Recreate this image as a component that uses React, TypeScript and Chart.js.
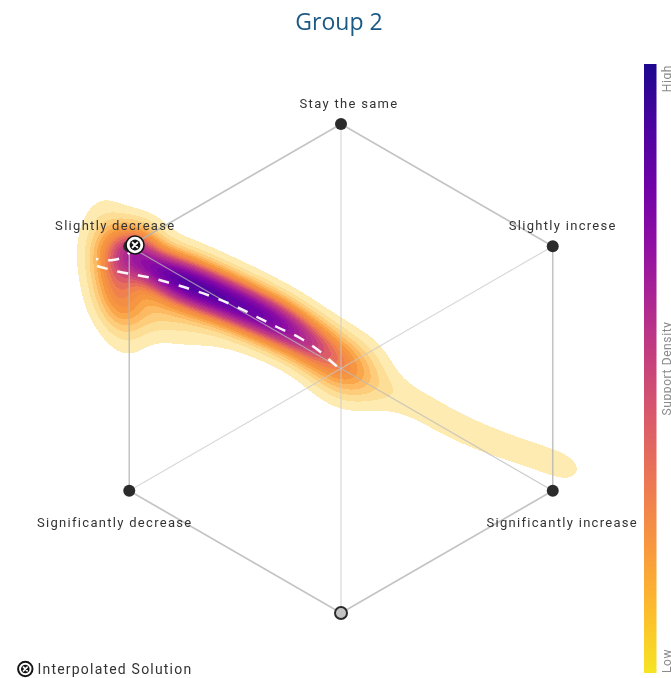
import React, { useEffect, useRef } from "react";
import { Chart, registerables } from "chart.js";
Chart.register(...registerables);

const PAGE_W = 671;
const PAGE_H = 678;

// ---------- text ----------
const chartTitle = "Group 2";
const vertexLabels = [
  "Stay the same",
  "Slightly increse",
  "Significantly increase",
  "",
  "Significantly decrease",
  "Slightly decrease",
];
const legendLabel = "Interpolated Solution";
const colorbarTitle = "Support Density";
const colorbarLow = "Low";
const colorbarHigh = "High";

// ---------- hexagon (page pixel space) ----------
const HEX_CX = 341;
const HEX_CY = 368.5;
const HEX_R = 244.5;
const vertexAngles = [-90, -30, 30, 90, 150, 210];
// label offsets from each vertex: [dx, baseline dy]
const labelOffsets = [
  [8, -16],
  [10, -16],
  [9.5, 36],
  [0, 0],
  [-14.5, 36],
  [-14, -16],
];

// ---------- interpolated solution + path ----------
const solutionPoint = [{ x: 135, y: 245 }];
const solutionPathA = [
  [134, 245], [127, 255], [113, 260], [96, 259],
];
const solutionPathB = [
  [97, 266], [120, 272], [147, 277], [170, 283], [193, 290], [213, 297],
  [237, 307], [257, 317], [277, 327], [300, 338], [318, 350], [333, 363], [343, 372],
];

// ---------- support density components: [cx, cy, sigmaAlong, sigmaAcross, angleDeg, weight] ----------
const ridgeKernels = [
  [153, 267, 22, 14, 24, 0.85],
  [183, 281, 22, 15, 24, 1.0],
  [212, 293, 22, 15, 25, 1.0],
  [242, 306, 22, 15, 26, 1.0],
  [271, 320, 22, 15, 28, 0.9],
  [298, 335, 22, 15, 33, 0.7],
  [322, 351, 20, 16, 38, 0.42],
  [345, 368, 20, 18, 40, 0.24],
];
const spreadKernels = [
  [135, 245, 16, 16, 0, 0.55],
  [116, 277, 36, 16, 80, 0.6],
  [165, 290, 45, 28, 30, 0.22],
  [145, 312, 28, 15, 10, 0.1],
  [250, 312, 70, 24, 27, 0.1],
  [352, 372, 24, 21, 30, 0.2],
];
const tailKernels = [
  [378, 387, 18, 14, 22, 0.075],
  [405, 399, 18, 14, 22, 0.07],
  [432, 413, 18, 15, 26, 0.07],
  [460, 428, 18, 15, 24, 0.07],
  [488, 440, 18, 14, 22, 0.07],
  [516, 450, 18, 13, 20, 0.07],
  [543, 459, 18, 13, 22, 0.07],
  [567, 468, 16, 12, 24, 0.07],
];
const DENSITY_LEVELS = 22;
const DENSITY_FLOOR = 0.035;
// density -> plasma position breakpoints (colour scale)
const colourStopsDensity = [0, 0.066, 0.17, 0.34, 0.53, 0.78, 1];
const colourStopsPlasma = [0.92, 0.88, 0.81, 0.72, 0.47, 0.28, 0.14];

// plasma colormap stops
const PLASMA = [
  [13, 8, 135], [65, 4, 157], [106, 0, 168], [143, 13, 164], [177, 42, 144],
  [204, 71, 120], [225, 100, 98], [242, 132, 75], [252, 166, 54], [252, 206, 37], [240, 249, 33],
];
function plasma(p: number) {
  const t = Math.max(0, Math.min(1, p)) * 10;
  const i = Math.min(9, Math.floor(t));
  const f = t - i;
  const a = PLASMA[i], b = PLASMA[i + 1];
  return a.map((v, j) => v + (b[j] - v) * f);
}
function densityToPlasma(d: number) {
  for (let i = 1; i < colourStopsDensity.length; i++) {
    if (d <= colourStopsDensity[i]) {
      const a = colourStopsDensity[i - 1], b = colourStopsDensity[i];
      const f = (d - a) / (b - a);
      return colourStopsPlasma[i - 1] + (colourStopsPlasma[i] - colourStopsPlasma[i - 1]) * f;
    }
  }
  return colourStopsPlasma[colourStopsPlasma.length - 1];
}

function buildDensity() {
  const kernels = [...ridgeKernels, ...spreadKernels, ...tailKernels].map((k) => {
    const a = (k[4] * Math.PI) / 180;
    return { cx: k[0], cy: k[1], sa: k[2], sb: k[3], c: Math.cos(a), s: Math.sin(a), w: k[5] };
  });
  const f = (x: number, y: number) => {
    let sum = 0;
    for (const k of kernels) {
      const dx = x - k.cx, dy = y - k.cy;
      const u = dx * k.c + dy * k.s;
      const v = -dx * k.s + dy * k.c;
      const e = (u * u) / (k.sa * k.sa) + (v * v) / (k.sb * k.sb);
      if (e < 30) sum += k.w * Math.exp(-0.5 * e);
    }
    return sum;
  };
  const xs: number[] = [], ys: number[] = [], ds: number[] = [];
  let max = 0;
  for (let y = 180.5; y <= 505; y += 1) {
    for (let x = 60.5; x <= 610; x += 1) {
      const d = f(x, y);
      if (d > max) max = d;
      xs.push(x); ys.push(y); ds.push(d);
    }
  }
  const step = (1 - DENSITY_FLOOR) / DENSITY_LEVELS;
  const palette: string[] = [];
  for (let k = 0; k < DENSITY_LEVELS; k++) {
    const dk = DENSITY_FLOOR + k * step;
    const dm = dk + step / 2;
    const rgb = plasma(densityToPlasma(dm));
    const m = Math.min(1, 0.36 + (dk - DENSITY_FLOOR) * 3.2);
    const col = rgb.map((v) => Math.round(255 + (v - 255) * m));
    palette.push(`rgb(${col[0]},${col[1]},${col[2]})`);
  }
  const pts: { x: number; y: number }[] = [];
  const cols: string[] = [];
  for (let i = 0; i < ds.length; i++) {
    const d = ds[i] / max;
    if (d < DENSITY_FLOOR) continue;
    const k = Math.min(DENSITY_LEVELS - 1, Math.floor((d - DENSITY_FLOOR) / step));
    pts.push({ x: xs[i], y: ys[i] });
    cols.push(palette[k]);
  }
  return { pts, cols };
}

function drawSolutionIcon(g: CanvasRenderingContext2D, x: number, y: number, r: number, ring: number) {
  g.save();
  g.beginPath();
  g.arc(x, y, r, 0, Math.PI * 2);
  g.fillStyle = "#ffffff";
  g.fill();
  g.lineWidth = ring;
  g.strokeStyle = "#151515";
  g.stroke();
  g.beginPath();
  g.arc(x, y, r * 0.6, 0, Math.PI * 2);
  g.fillStyle = "#151515";
  g.fill();
  const a = r * 0.26;
  g.strokeStyle = "#ffffff";
  g.lineWidth = r * 0.22;
  g.lineCap = "round";
  g.beginPath();
  g.moveTo(x - a, y - a);
  g.lineTo(x + a, y + a);
  g.moveTo(x + a, y - a);
  g.lineTo(x - a, y + a);
  g.stroke();
  g.restore();
}

function makeIcon() {
  const c = document.createElement("canvas");
  c.width = 22;
  c.height = 22;
  const g = c.getContext("2d")!;
  drawSolutionIcon(g, 11, 11, 9, 1.6);
  return c;
}

const overlayPlugin = {
  id: "overlay",
  afterDatasetsDraw(chart: any) {
    const ctx: CanvasRenderingContext2D = chart.ctx;
    const xs = chart.scales.x, ys = chart.scales.y;
    ctx.save();
    ctx.font = "13px Roboto";
    ctx.fillStyle = "#333333";
    ctx.textAlign = "center";
    ctx.textBaseline = "alphabetic";
    (ctx as any).letterSpacing = "1.3px";
    vertexAngles.forEach((a, i) => {
      if (!vertexLabels[i]) return;
      const vx = HEX_CX + HEX_R * Math.cos((a * Math.PI) / 180);
      const vy = HEX_CY + HEX_R * Math.sin((a * Math.PI) / 180);
      ctx.fillText(vertexLabels[i], xs.getPixelForValue(vx) + labelOffsets[i][0], ys.getPixelForValue(vy) + labelOffsets[i][1]);
    });
    ctx.restore();
  },
  afterDraw(chart: any) {
    const ctx: CanvasRenderingContext2D = chart.ctx;
    ctx.save();
    // title
    ctx.font = "23px 'Open Sans'";
    ctx.fillStyle = "#1b5a85";
    ctx.textAlign = "center";
    ctx.textBaseline = "alphabetic";
    ctx.fillText(chartTitle, 339, 29.5);

    // colorbar
    const cbX = 644, cbY = 64, cbW = 12.5, cbH = 609;
    const grad = ctx.createLinearGradient(0, cbY, 0, cbY + cbH);
    for (let i = 0; i <= 10; i++) {
      const c = plasma(0.03 + (0.92 * i) / 10);
      grad.addColorStop(i / 10, `rgb(${c[0]},${c[1]},${c[2]})`);
    }
    ctx.fillStyle = grad;
    ctx.fillRect(cbX, cbY, cbW, cbH);

    ctx.fillStyle = "#8a8a8a";
    ctx.font = "12px Roboto";
    (ctx as any).letterSpacing = "0.6px";
    ctx.textBaseline = "alphabetic";
    const drawVert = (text: string, y: number, align: CanvasTextAlign) => {
      ctx.save();
      ctx.translate(670.5, y);
      ctx.rotate(-Math.PI / 2);
      ctx.textAlign = align;
      ctx.fillText(text, 0, 0);
      ctx.restore();
    };
    drawVert(colorbarHigh, 65, "right");
    drawVert(colorbarTitle, cbY + cbH / 2, "center");
    drawVert(colorbarLow, 673, "left");

    // legend
    drawSolutionIcon(ctx, 25.3, 669, 7.2, 2);
    ctx.font = "14px Roboto";
    ctx.fillStyle = "#333333";
    ctx.textAlign = "left";
    (ctx as any).letterSpacing = "1.2px";
    ctx.fillText(legendLabel, 37.5, 674);
    ctx.restore();
  },
};

export default function App() {
  const ref = useRef<HTMLCanvasElement>(null);
  useEffect(() => {
    if (!ref.current) return;
    const { pts, cols } = buildDensity();
    const verts = vertexAngles.map((a) => ({
      x: HEX_CX + HEX_R * Math.cos((a * Math.PI) / 180),
      y: HEX_CY + HEX_R * Math.sin((a * Math.PI) / 180),
    }));
    const seg = (p: any, q: any, color: string, width: number) => ({
      label: "grid",
      data: [p, q],
      showLine: true,
      borderColor: color,
      borderWidth: width,
      pointRadius: 0,
      fill: false,
      order: 3,
    });
    const gridSets: any[] = [];
    for (let i = 0; i < 6; i++) gridSets.push(seg(verts[i], verts[(i + 1) % 6], "rgba(180,180,180,0.8)", 1.5));
    gridSets.push(seg(verts[0], verts[3], "rgba(200,200,200,0.7)", 1.2));
    gridSets.push(seg(verts[1], verts[4], "rgba(200,200,200,0.7)", 1.2));
    gridSets.push(seg(verts[5], verts[2], "rgba(185,185,185,0.75)", 1.2));

    const toXY = (arr: number[][]) => arr.map((p) => ({ x: p[0], y: p[1] }));
    const icon = makeIcon();

    const chart = new Chart(ref.current, {
      type: "scatter",
      data: {
        datasets: [
          {
            label: "solution",
            data: solutionPoint,
            pointStyle: icon as any,
            pointRadius: 10,
            order: 0,
          } as any,
          {
            label: "vertices",
            data: verts,
            pointRadius: 6,
            pointBackgroundColor: verts.map((_, i) => (i === 3 ? "#c4c4c4" : "#2b2b2b")),
            pointBorderColor: "#2b2b2b",
            pointBorderWidth: verts.map((_, i) => (i === 3 ? 2 : 0)),
            order: 1,
          } as any,
          {
            label: "pathA",
            data: toXY(solutionPathA),
            showLine: true,
            borderColor: "rgba(255,255,255,0.95)",
            borderWidth: 2.5,
            borderDash: [11, 10],
            tension: 0.35,
            pointRadius: 0,
            fill: false,
            order: 2,
          } as any,
          {
            label: "pathB",
            data: toXY(solutionPathB),
            showLine: true,
            borderColor: "rgba(255,255,255,0.95)",
            borderWidth: 2.5,
            borderDash: [11, 10],
            tension: 0.35,
            pointRadius: 0,
            fill: false,
            order: 2,
          } as any,
          ...gridSets,
          {
            label: "density",
            data: pts,
            pointStyle: "rect",
            pointRadius: 0.75,
            pointBackgroundColor: cols,
            pointBorderWidth: 0,
            pointHoverRadius: 0,
            order: 10,
          } as any,
        ],
      },
      options: {
        responsive: false,
        animation: false,
        events: [],
        layout: { padding: 0, autoPadding: false },
        scales: {
          x: { type: "linear", min: 0, max: PAGE_W, display: false },
          y: { type: "linear", min: 0, max: PAGE_H, reverse: true, display: false },
        },
        plugins: {
          legend: { display: false },
          tooltip: { enabled: false },
          title: { display: false },
        },
      },
      plugins: [overlayPlugin as any],
    });
    return () => chart.destroy();
  }, []);

  return (
    <div style={{ position: "fixed", left: 0, top: 0, width: PAGE_W, height: PAGE_H, background: "#fff" }}>
      <canvas ref={ref} width={PAGE_W} height={PAGE_H} style={{ width: PAGE_W, height: PAGE_H, display: "block" }} />
    </div>
  );
}
